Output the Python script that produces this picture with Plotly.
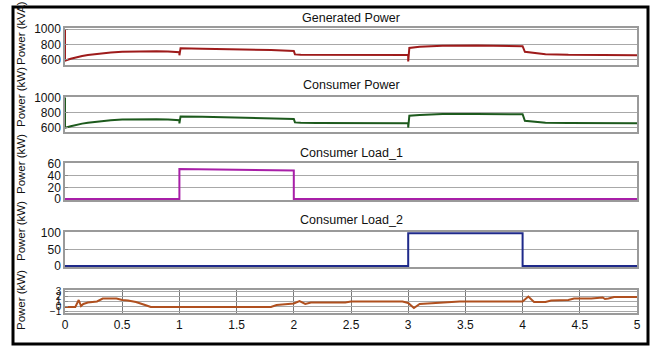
import plotly.graph_objects as go
from plotly.subplots import make_subplots

# ---------------- data ----------------
t_gen = [0, 0, 0.05, 0.1, 0.15, 0.2, 0.3, 0.4, 0.5, 0.6, 0.7, 0.8, 0.9, 1.0, 1.0, 1.01, 1.2, 1.5, 1.8, 2.0, 2.01, 2.06, 2.2, 2.5, 2.8, 3.0, 3.0, 3.01, 3.1, 3.3, 3.6, 3.9, 4.0, 4.02, 4.1, 4.2, 4.4, 4.7, 5.0]
v_gen = [1000, 592, 615, 635, 650, 663, 682, 696, 705, 710, 712, 712, 708, 700, 660, 750, 745, 738, 728, 716, 672, 666, 665, 664, 664, 663, 580, 756, 770, 785, 788, 786, 778, 706, 690, 675, 666, 663, 662]

t_con = [0, 0, 0.05, 0.1, 0.15, 0.2, 0.3, 0.4, 0.5, 0.6, 0.7, 0.8, 0.9, 1.0, 1.0, 1.01, 1.2, 1.5, 1.8, 2.0, 2.01, 2.06, 2.2, 2.5, 2.8, 3.0, 3.0, 3.01, 3.1, 3.3, 3.6, 3.9, 4.0, 4.02, 4.1, 4.2, 4.4, 4.7, 5.0]
v_con = [1000, 598, 618, 637, 652, 664, 683, 697, 706, 710, 711, 711, 706, 698, 655, 748, 744, 736, 726, 714, 668, 662, 660, 659, 659, 658, 600, 756, 768, 778, 780, 779, 776, 690, 675, 665, 660, 658, 658]

t_load1 = [0, 1.0, 1.0, 2.0, 2.0, 5.0]
v_load1 = [0, 0, 51.5, 49, 0, 0]

t_load2 = [0, 3.0, 3.0, 4.0, 4.0, 5.0]
v_load2 = [0, 0, 99, 99, 0, 0]

t_diff = [0, 0.09, 0.12, 0.14, 0.16, 0.2, 0.28, 0.33, 0.45, 0.5, 0.55, 0.62, 0.7, 0.75, 1.8, 1.85, 1.95, 2.0, 2.05, 2.1, 2.15, 2.45, 2.5, 2.95, 3.0, 3.05, 3.1, 3.2, 3.4, 3.45, 4.0, 4.05, 4.1, 4.2, 4.25, 4.4, 4.45, 4.6, 4.7, 4.72, 4.75, 4.8, 5.0]
v_diff = [-0.1, -0.1, 1.3, 0.1, 0.5, 0.8, 1.0, 1.6, 1.6, 1.3, 1.2, 0.9, 0.3, -0.1, -0.1, 0.3, 0.5, 0.6, 1.1, 0.5, 0.8, 0.8, 1.0, 1.0, 0.7, -0.3, 0.5, 0.6, 0.8, 1.0, 1.0, 2.0, 0.9, 0.9, 1.2, 1.3, 1.6, 1.6, 1.8, 1.5, 1.6, 1.9, 1.9]

titles = ["Generated Power", "Consumer Power", "Consumer Load_1", "Consumer Load_2"]
ylabels = ["Power (kVA)", "Power (kW)", "Power (kW)", "Power (kW)", "Power (kW)"]
x_ticks = [0, 0.5, 1, 1.5, 2, 2.5, 3, 3.5, 4, 4.5, 5]
x_tick_text = ["0", "0.5", "1", "1.5", "2", "2.5", "3", "3.5", "4", "4.5", "5"]

# ---------------- figure ----------------
W, H = 657, 347
L, R, T, B = 65, 20, 28, 34
PW, PH = W - L - R, H - T - B

def py(ypx):
    return (H - B - ypx) / PH

def px(xpx):
    return (xpx - L) / PW

fig = make_subplots(rows=5, cols=1, shared_xaxes=True)

series = [
    (t_gen, v_gen, "#9e1b1b"),
    (t_con, v_con, "#1d5a1d"),
    (t_load1, v_load1, "#a81fa8"),
    (t_load2, v_load2, "#1f2a8a"),
    (t_diff, v_diff, "#b0501f"),
]
for i, (tx, vy, c) in enumerate(series):
    fig.add_trace(go.Scatter(x=tx, y=vy, mode="lines", line=dict(color=c, width=2),
                             showlegend=False, hoverinfo="skip"), row=i + 1, col=1)

domains = [(65, 28), (132, 97), (200, 163), (267, 232), (313, 290)]
ranges = [[535, 1013], [541, 1005], [-1.7, 61.7], [-3, 103], [-1.3, 3.3]]
ticks = [[600, 800, 1000], [600, 800, 1000], [0, 20, 40, 60], [0, 50, 100], [-1, 0, 1, 2, 3]]

font = dict(family="Liberation Sans, Arial, sans-serif", size=12, color="#111")

for i in range(5):
    yk = "yaxis" if i == 0 else f"yaxis{i+1}"
    xk = "xaxis" if i == 0 else f"xaxis{i+1}"
    b, t = domains[i]
    fig.layout[yk].update(domain=[py(b), py(t)], range=ranges[i], tickvals=ticks[i],
                          showgrid=True, gridcolor="#a8a8a8", gridwidth=1, zeroline=False,
                          showline=True, linecolor="#9a9a9a", linewidth=1.5, mirror=True,
                          ticks="inside", ticklen=3, tickcolor="#888",
                          tickfont=dict(font, size=12 if i < 4 else 10), fixedrange=True)
    fig.layout[xk].update(range=[0, 5], showline=True, linecolor="#9a9a9a", linewidth=1.5,
                          mirror=True, zeroline=False, tickvals=x_ticks, ticktext=x_tick_text,
                          showgrid=(i == 4), gridcolor="#777", gridwidth=1,
                          showticklabels=(i == 4), ticks="", tickfont=font)

annotations = []
title_y = [18, 85, 153, 220]
for txt, yp in zip(titles, title_y):
    annotations.append(dict(text=txt, x=0.5, y=py(yp), xref="paper", yref="paper",
                            showarrow=False, xanchor="center", yanchor="middle",
                            font=dict(font, size=12.5)))
label_y = [33, 97, 164, 231, 300]
for txt, yp in zip(ylabels, label_y):
    annotations.append(dict(text=txt, x=px(21), y=py(yp), xref="paper", yref="paper",
                            showarrow=False, xanchor="center", yanchor="middle", textangle=-90,
                            font=dict(font, size=11.5)))

shapes = [dict(type="rect", xref="paper", yref="paper", x0=px(13), x1=px(648), y0=py(344), y1=py(7),
               line=dict(color="#000", width=3), fillcolor="rgba(0,0,0,0)", layer="above")]

fig.update_layout(width=W, height=H, margin=dict(l=L, r=R, t=T, b=B, pad=0),
                  paper_bgcolor="white", plot_bgcolor="white", font=font,
                  annotations=annotations, shapes=shapes, showlegend=False)

fig.write_html("out.html", config={"displayModeBar": False},
               post_script="document.body.style.margin='0';document.body.style.overflow='hidden';")
